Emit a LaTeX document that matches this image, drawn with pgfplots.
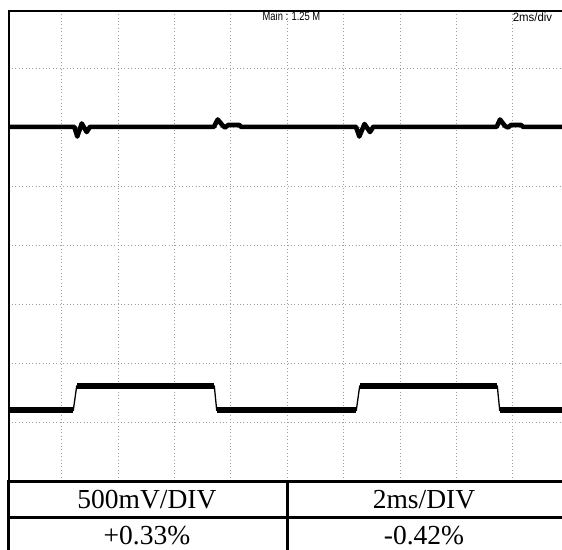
\documentclass[border=0pt]{standalone}
\usepackage{fontspec}
\setmainfont{Liberation Serif}
\newfontfamily\scopefont{Liberation Sans}
\usepackage{graphicx}
\usepackage{pgfplots}
\pgfplotsset{compat=1.18}
\begin{document}
\begin{tikzpicture}[x=1pt,y=1pt]
\useasboundingbox (0,0) rectangle (562,549);
\begin{axis}[
  x=1pt, y=1pt, y dir=reverse,
  anchor=north west, at={(8.7pt,538.2pt)},
  xmin=8.7, xmax=570, ymin=10.8, ymax=481.7,
  xtick={61.7,118.1,174.5,230.8,287.2,343.6,400,456.3,512.7,569.1},
  ytick={68.3,127.4,186.4,245.5,304.6,363.7,422.7},
  xticklabels={}, yticklabels={},
  major tick length=0pt,
  grid=major,
  major grid style={black!38, line width=0.8pt, dash pattern=on 0.8pt off 2.6pt},
  axis line style={line width=2pt, black},
  clip=false,
]
% upper trace (channel 1)
\addplot[black, line width=4.6pt, line join=round] coordinates {
(8.7,126.8) (74.3,126.8) (77.3,136.5) (81.7,123.5) (86.7,132) (90,126.8)
(214,126.8) (217.7,119.5) (222.7,125.5) (225,127.5) (228.3,125) (239.3,125) (241,126.8)
(356,126.8) (359.3,136.5) (364.5,124) (370,132) (373.3,126.8)
(496.7,126.8) (500,119.5) (505,126) (508,127.5) (511,125) (521,125) (523,126.8)
(570,126.8)};
% lower trace (channel 2), edges
\addplot[black, line width=1.3pt] coordinates {
(8.7,410.3) (73.3,410.3) (76.7,386) (214.3,386) (216.7,410.3) (356.3,410.3)
(359.7,386) (497.3,386) (499.7,410.3) (570,410.3)};
% lower trace, noisy levels
\addplot[black, line width=6.3pt, line cap=butt, unbounded coords=jump] coordinates {
(8.7,410.3) (73.3,410.3) (75,nan) (77,386) (214.3,386) (215,nan)
(216.8,410.3) (356.3,410.3) (358,nan) (360,386) (497.3,386) (498,nan)
(499.8,410.3) (570,410.3)};
% scope labels
\node[anchor=west, inner sep=0pt, font=\scopefont\fontsize{12}{14}\selectfont]
  at (axis cs:262.5,16.4) {\scalebox{0.78}[1]{Main : 1.25 M}};
\node[anchor=west, inner sep=0pt, font=\scopefont\fontsize{12}{14}\selectfont]
  at (axis cs:512.7,16.8) {\scalebox{0.95}[1]{2ms/div}};
% table
\draw[line width=3.3pt, black] (axis cs:8.7,481.7) -- (axis cs:575,481.7);
\draw[line width=3.2pt, black] (axis cs:8.7,517.4) -- (axis cs:575,517.4);
\draw[line width=3.6pt, black] (axis cs:287.5,480) -- (axis cs:287.5,560);
\draw[line width=3pt, black] (axis cs:8.2,480) -- (axis cs:8.2,560);
\node[anchor=base, inner sep=0pt, font=\fontsize{27.5}{30}\selectfont] at (axis cs:147,508.5) {500mV/DIV};
\node[anchor=base, inner sep=0pt, font=\fontsize{27.5}{30}\selectfont] at (axis cs:424,508.5) {2ms/DIV};
\node[anchor=base, inner sep=0pt, font=\fontsize{27.5}{30}\selectfont] at (axis cs:147,544) {+0.33\%};
\node[anchor=base, inner sep=0pt, font=\fontsize{27.5}{30}\selectfont] at (axis cs:424,544) {-0.42\%};
\end{axis}
\end{tikzpicture}
\end{document}
